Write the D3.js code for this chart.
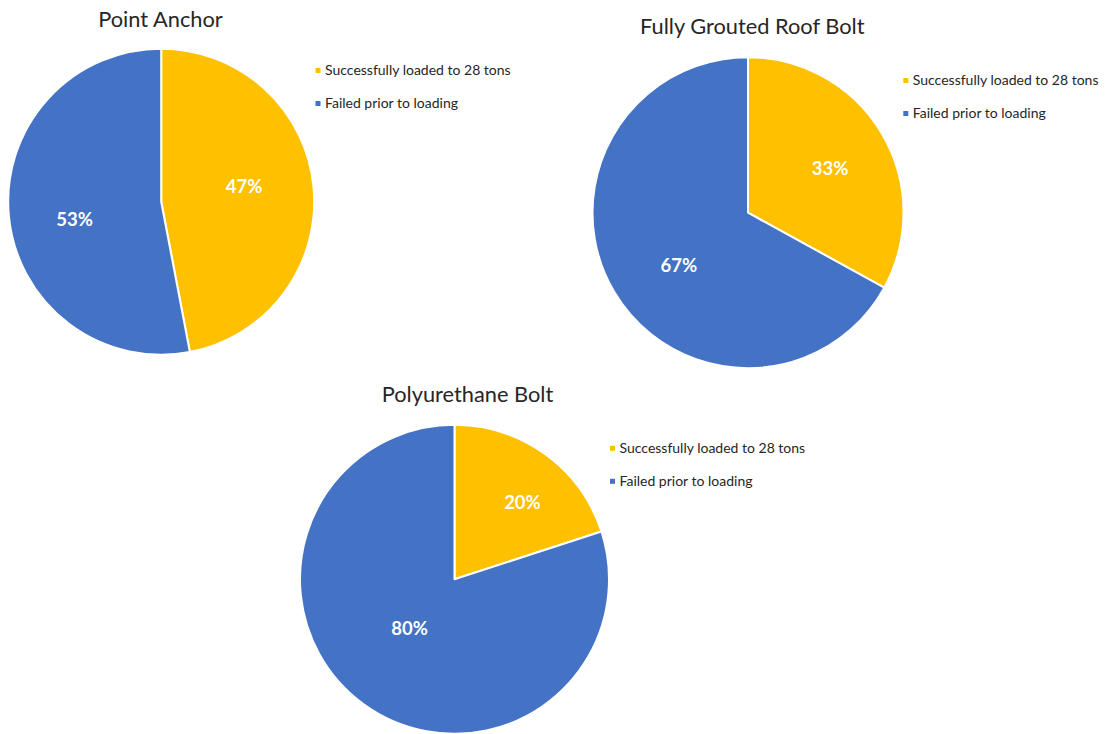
<!DOCTYPE html>
<html>
<head>
<meta charset="utf-8">
<script src="https://cdn.jsdelivr.net/npm/d3@7"></script>
<style>
  html, body { margin: 0; padding: 0; background: #ffffff; }
  svg { display: block; }
</style>
</head>
<body>
<svg id="chart" width="1107" height="734"></svg>
<script>
// Outcome categories (legend order / slice order, clockwise from 12 o'clock)
const categories = ["Successfully loaded to 28 tons", "Failed prior to loading"];
const categoryColors = ["#FFC000", "#4472C4"];

// One pie per bolt type
const chartTitles = ["Point Anchor", "Fully Grouted Roof Bolt", "Polyurethane Bolt"];
const successPct = [47, 33, 20];
const failedPct = [53, 67, 80];

// Placement of each pie, its title and its legend
const layout = [
  { cx: 161.2, cy: 201.7, r: 153,   titleX: 160.5, titleY: 27,  legendX: 315.5, legendY: 70.5,
    labelK: [0.55, 0.578], labelShift: [-4.9, -5.9] },
  { cx: 748,   cy: 212.7, r: 155.5, titleX: 752.3, titleY: 33.5, legendX: 903.3, legendY: 80.5,
    labelK: [0.60, 0.558], labelShift: [2.2, -6.5] },
  { cx: 454.5, cy: 579.3, r: 154.5, titleX: 467.5, titleY: 402,  legendX: 610,   legendY: 448.3,
    labelK: [0.665, 0.43], labelShift: [5.4, 6.6] }
];

const svg = d3.select("#chart");
const color = d3.scaleOrdinal().domain(categories).range(categoryColors);
const pie = d3.pie().sort(null).value(d => d.value);
const FONT = "Lato, 'Open Sans', sans-serif";

chartTitles.forEach((title, i) => {
  const L = layout[i];
  const data = [
    { category: categories[0], value: successPct[i] },
    { category: categories[1], value: failedPct[i] }
  ];
  const arcs = pie(data);
  const arc = d3.arc().innerRadius(0).outerRadius(L.r);

  const g = svg.append("g").attr("transform", `translate(${L.cx},${L.cy})`);

  g.selectAll("path.slice")
    .data(arcs)
    .join("path")
    .attr("class", "slice")
    .attr("d", arc)
    .attr("fill", d => color(d.data.category))
    .attr("stroke", "#ffffff")
    .attr("stroke-width", 2)
    .attr("stroke-linejoin", "round");

  // Percentage labels placed along each slice's mid angle
  g.selectAll("text.pct")
    .data(arcs)
    .join("text")
    .attr("class", "pct")
    .attr("transform", (d, j) => {
      const a = (d.startAngle + d.endAngle) / 2 + L.labelShift[j] * Math.PI / 180;
      const rr = L.r * L.labelK[j];
      return `translate(${rr * Math.sin(a)},${-rr * Math.cos(a)})`;
    })
    .attr("text-anchor", "middle")
    .attr("dy", "0.36em")
    .attr("fill", "#ffffff")
    .attr("font-family", FONT)
    .attr("font-weight", 700)
    .attr("font-size", 18.5)
    .text(d => d.data.value + "%");

  // Title
  svg.append("text")
    .attr("x", L.titleX)
    .attr("y", L.titleY)
    .attr("text-anchor", "middle")
    .attr("fill", "#262626")
    .attr("font-family", FONT)
    .attr("font-size", 21.8)
    .text(title);

  // Legend
  const lg = svg.append("g").attr("transform", `translate(${L.legendX},${L.legendY})`);
  const items = lg.selectAll("g.item")
    .data(categories)
    .join("g")
    .attr("class", "item")
    .attr("transform", (d, j) => `translate(0,${j * 33})`);
  items.append("rect")
    .attr("x", 0).attr("y", -2.5)
    .attr("width", 5).attr("height", 5)
    .attr("fill", d => color(d));
  items.append("text")
    .attr("x", 9.5)
    .attr("y", 0)
    .attr("dy", "0.35em")
    .attr("fill", "#262626")
    .attr("font-family", FONT)
    .attr("font-size", 14)
    .text(d => d);
});
</script>
</body>
</html>
